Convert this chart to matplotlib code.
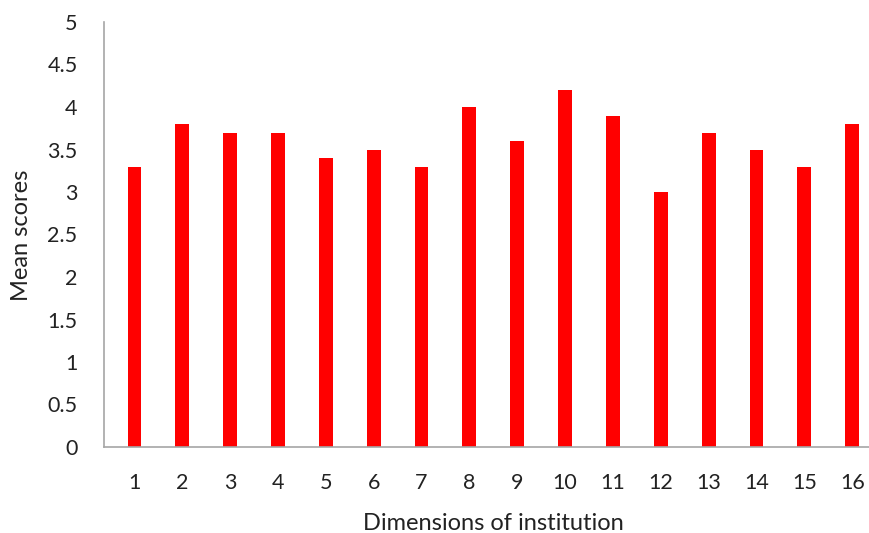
import matplotlib.pyplot as plt

dimensions = list(range(1, 17))
mean_scores = [3.3, 3.8, 3.7, 3.7, 3.4, 3.5, 3.3, 4.0, 3.6, 4.2, 3.9, 3.0, 3.7, 3.5, 3.3, 3.8]
y_ticks = [0, 0.5, 1, 1.5, 2, 2.5, 3, 3.5, 4, 4.5, 5]
y_tick_labels = ['0', '0.5', '1', '1.5', '2', '2.5', '3', '3.5', '4', '4.5', '5']

plt.rcParams['font.family'] = ['Lato', 'DejaVu Sans']

fig = plt.figure(figsize=(8.7, 5.33), dpi=100)
ax = fig.add_axes([104/870, 1 - 447/533, 1 - 104/870, (447 - 22)/533])

ax.bar(dimensions, mean_scores, width=0.29, color='#ff0000')

# category spacing ~48.5 px, first bar centre ~31 px right of the axis
ax.set_xlim(1 - 30.8/48.4, 1 + (879 - 135)/48.4)
ax.set_ylim(0, 5)
ax.set_xticks(dimensions)
ax.set_xticklabels([str(d) for d in dimensions])
ax.set_yticks(y_ticks)
ax.set_yticklabels(y_tick_labels)

for s in ['top', 'right']:
    ax.spines[s].set_visible(False)
for s in ['left', 'bottom']:
    ax.spines[s].set_color('#a6a6a6')
    ax.spines[s].set_linewidth(1.2)

ax.tick_params(axis='both', length=0, labelsize=15.5, colors='#222222')
ax.tick_params(axis='y', pad=19)
ax.tick_params(axis='x', pad=19)

ax.set_xlabel('Dimensions of institution', fontsize=17, color='#222222', va='center')
ax.set_ylabel('Mean scores', fontsize=17, color='#222222', va='center')
ax.xaxis.set_label_coords((493 - 104) / (870 - 104), -(523 - 447) / (447 - 22))
ax.yaxis.set_label_coords(-(104 - 22) / (870 - 104), (447 - 235) / (447 - 22))

fig.savefig('out.png', dpi=100)
